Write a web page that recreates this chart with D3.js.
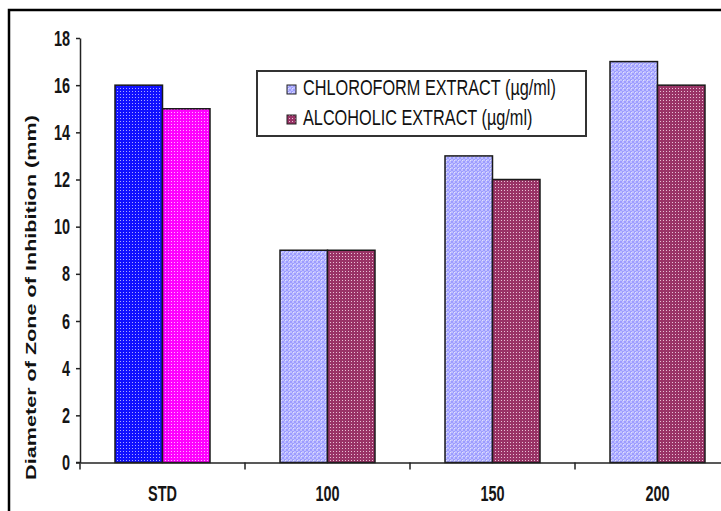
<!DOCTYPE html>
<html>
<head>
<meta charset="utf-8">
<script src="https://cdn.jsdelivr.net/npm/d3@7"></script>
<style>
  html, body { margin: 0; padding: 0; background: #fff; }
  svg { display: block; }
</style>
</head>
<body>
<svg id="chart" width="721" height="511"></svg>
<script>
// Zone of inhibition data (mm)
const categories = ["STD", "100", "150", "200"];
const seriesNames = ["CHLOROFORM EXTRACT (µg/ml)", "ALCOHOLIC EXTRACT (µg/ml)"];
const chloroform = [16, 9, 13, 17];
const alcoholic = [15, 9, 12, 16];
const yTicks = [0, 2, 4, 6, 8, 10, 12, 14, 16, 18];

const svg = d3.select("#chart");
const sans = "'Liberation Sans', Arial, sans-serif";

// Condensed, tall lettering: squeeze horizontally, stretch vertically
const labelScale = "scale(0.85,1.32)";

// Fill patterns
const defs = svg.append("defs");
function dotPattern(id, bg, dot, size) {
  const p = defs.append("pattern").attr("id", id)
    .attr("patternUnits", "userSpaceOnUse").attr("width", size).attr("height", size);
  p.append("rect").attr("width", size).attr("height", size).attr("fill", bg);
  p.append("rect").attr("x", 1).attr("y", 1).attr("width", 1).attr("height", 1).attr("fill", dot);
}
dotPattern("p-std-a", "#1010ff", "#a8a8ff", 3);
dotPattern("p-std-b", "#ff00ff", "#ffb0ff", 3);
dotPattern("p-alc", "#993366", "#e8c0d4", 3);
{
  const p = defs.append("pattern").attr("id", "p-chl")
    .attr("patternUnits", "userSpaceOnUse").attr("width", 4).attr("height", 4);
  p.append("rect").attr("width", 4).attr("height", 4).attr("fill", "#9c9cff");
  p.append("path").attr("d", "M2,0 L4,2 L2,4 L0,2 Z").attr("fill", "none")
    .attr("stroke", "#c8c8ff").attr("stroke-width", 0.8);
  p.append("rect").attr("x", 0).attr("y", 0).attr("width", 1).attr("height", 1).attr("fill", "#e0e0ff");
}

// Scales
const x0 = d3.scaleBand().domain(categories).range([80, 740]);
const x1 = d3.scaleBand().domain([0, 1]).range([0, x0.bandwidth()])
  .paddingInner(0).paddingOuter(0.737);
const y = d3.scaleLinear().domain([0, 18]).range([462.5, 38]);

const rows = categories.map((c, i) => ({ cat: c, vals: [chloroform[i], alcoholic[i]] }));

function fillFor(cat, s) {
  if (cat === "STD") return s === 0 ? "url(#p-std-a)" : "url(#p-std-b)";
  return s === 0 ? "url(#p-chl)" : "url(#p-alc)";
}

// Bars
svg.append("g").selectAll("g.grp").data(rows).join("g").attr("class", "grp")
  .attr("transform", d => `translate(${x0(d.cat)},0)`)
  .selectAll("rect").data(d => d.vals.map((v, s) => ({ cat: d.cat, v, s })))
  .join("rect")
  .attr("x", d => x1(d.s))
  .attr("y", d => y(d.v))
  .attr("width", x1.bandwidth())
  .attr("height", d => y(0) - y(d.v))
  .attr("fill", d => fillFor(d.cat, d.s))
  .attr("stroke", "#1a1a1a")
  .attr("stroke-width", 1.5);

// Y axis
const yAxis = svg.append("g").attr("transform", "translate(80,0)")
  .call(d3.axisLeft(y).tickValues(yTicks).tickSize(4).tickSizeOuter(0).tickFormat(""));
yAxis.select(".domain").attr("stroke", "#222").attr("stroke-width", 1.5);
yAxis.selectAll(".tick line").attr("stroke", "#222").attr("stroke-width", 1.5);

svg.append("g").selectAll("g").data(yTicks).join("g")
  .attr("transform", d => `translate(70,${y(d) + 7.5}) ${labelScale}`)
  .append("text")
  .attr("text-anchor", "end")
  .attr("font-family", sans).attr("font-weight", "bold").attr("font-size", 17)
  .attr("fill", "#151515")
  .text(d => d);

// X axis
const xAxis = svg.append("g").attr("transform", `translate(0,${y(0)})`)
  .call(d3.axisBottom(x0).tickSize(0).tickFormat(""));
xAxis.select(".domain").attr("stroke", "#222").attr("stroke-width", 1.5);
svg.append("line").attr("x1", 76).attr("x2", 80).attr("y1", y(0)).attr("y2", y(0))
  .attr("stroke", "#222").attr("stroke-width", 1.5);
svg.append("g").selectAll("line").data(categories).join("line")
  .attr("x1", d => x0(d)).attr("x2", d => x0(d))
  .attr("y1", y(0)).attr("y2", y(0) + 7)
  .attr("stroke", "#222").attr("stroke-width", 1.5);

svg.append("g").selectAll("g").data(categories).join("g")
  .attr("transform", d => `translate(${x0(d) + x0.bandwidth() / 2},501) ${labelScale}`)
  .append("text")
  .attr("text-anchor", "middle")
  .attr("font-family", sans).attr("font-weight", "bold").attr("font-size", 17)
  .attr("fill", "#151515")
  .text(d => d);

// Y axis title, stretched along its length to span the axis
const titleG = svg.append("g");
const title = titleG.append("text")
  .attr("transform", "rotate(-90)")
  .attr("text-anchor", "middle")
  .attr("font-family", sans)
  .attr("font-weight", "bold").attr("font-size", 15)
  .attr("fill", "#111")
  .text("Diameter of Zone of Inhibition (mm)");
const titleLen = title.node().getComputedTextLength();
titleG.attr("transform", `translate(36,297.5) scale(1,${365 / titleLen})`);

// Legend
const legend = svg.append("g");
legend.append("rect").attr("x", 257).attr("y", 71).attr("width", 329).attr("height", 65)
  .attr("fill", "#fff").attr("stroke", "#333").attr("stroke-width", 2);
const legendFills = ["url(#p-chl)", "url(#p-alc)"];
const li = legend.selectAll("g.item").data(seriesNames).join("g").attr("class", "item")
  .attr("transform", (d, i) => `translate(0,${i * 30})`);
li.append("rect").attr("x", 287).attr("y", 85).attr("width", 9).attr("height", 9)
  .attr("fill", (d, i) => legendFills[i]).attr("stroke", "#222").attr("stroke-width", 1);
const legendText = li.append("g");
legendText.append("text")
  .attr("font-family", sans).attr("font-size", 20).attr("fill", "#111")
  .text(d => d);
// Squeeze both entries by the same factor so the first line spans 253px
const firstLen = legendText.select("text").node().getComputedTextLength();
legendText.attr("transform", `translate(303,95) scale(${253 / firstLen},1.12)`);

// Outer frame
svg.append("rect").attr("x", 9).attr("y", 10).attr("width", 800).attr("height", 600)
  .attr("fill", "none").attr("stroke", "#000").attr("stroke-width", 2.5);
</script>
</body>
</html>
